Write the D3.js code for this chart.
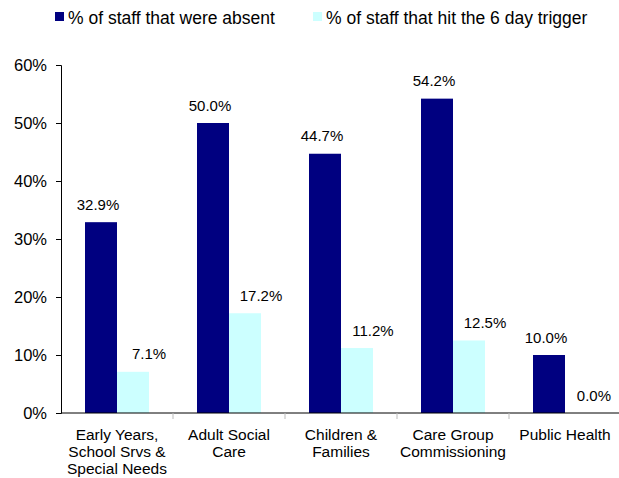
<!DOCTYPE html>
<html>
<head>
<meta charset="utf-8">
<script src="https://cdn.jsdelivr.net/npm/d3@7"></script>
<style>
  body { margin: 0; background: #fff; }
  text { font-family: "Liberation Sans", Arial, sans-serif; fill: #000; }
</style>
</head>
<body>
<script>
// data
var categories = [
  ["Early Years,", "School Srvs &", "Special Needs"],
  ["Adult Social", "Care"],
  ["Children &", "Families"],
  ["Care Group", "Commissioning"],
  ["Public Health"]
];
var absent = [32.9, 50.0, 44.7, 54.2, 10.0];
var trigger = [7.1, 17.2, 11.2, 12.5, 0.0];
var seriesNames = ["% of staff that were absent", "% of staff that hit the 6 day trigger"];
var seriesColors = ["#000080", "#ccffff"];
var yTicks = [0, 10, 20, 30, 40, 50, 60];

var width = 619, height = 478;
var margin = {top: 65, left: 61, bottom: 65};

var svg = d3.select("body").append("svg")
  .attr("width", width)
  .attr("height", height);

var x = d3.scaleBand()
  .domain(d3.range(categories.length))
  .range([margin.left, margin.left + 112 * categories.length]);

// two bars per group, gap on each side
var xs = d3.scaleBand()
  .domain([0, 1])
  .range([0, x.bandwidth()])
  .paddingInner(0)
  .paddingOuter(0.75);

var y = d3.scaleLinear()
  .domain([0, 60])
  .range([height - margin.bottom, margin.top]);

// y axis
var yAxis = svg.append("g")
  .attr("transform", "translate(" + margin.left + ",0)")
  .call(d3.axisLeft(y).tickValues(yTicks).tickSize(5).tickPadding(9)
    .tickFormat(function(d) { return d + "%"; }));
yAxis.select(".domain").attr("stroke", "#000");
yAxis.selectAll("text").style("font-size", "16.5px");

// bars
var series = [absent, trigger];
var labelShift = [-3, 16]; // excel puts the light labels off to the right
series.forEach(function(vals, s) {
  svg.append("g").selectAll("rect")
    .data(vals)
    .join("rect")
      .attr("x", function(d, i) { return x(i) + xs(s); })
      .attr("width", xs.bandwidth())
      .attr("y", function(d) { return y(d); })
      .attr("height", function(d) { return y(0) - y(d); })
      .attr("fill", seriesColors[s]);
});

series.forEach(function(vals, s) {
  svg.append("g").selectAll("text")
    .data(vals)
    .join("text")
      .attr("x", function(d, i) { return x(i) + xs(s) + xs.bandwidth() / 2 + labelShift[s]; })
      .attr("y", function(d) { return y(d) - 12.5; })
      .attr("text-anchor", "middle")
      .style("font-size", "15px")
      .text(function(d) { return d.toFixed(1) + "%"; })
      .each(function() {
        // keep inside the plot on the right
        var w = this.getComputedTextLength();
        var cx = +this.getAttribute("x");
        if (cx + w / 2 > 611) this.setAttribute("x", 611 - w / 2);
      });
});

// x axis
var xAxis = svg.append("g")
  .attr("transform", "translate(0," + y(0) + ")");
xAxis.append("line")
  .attr("x1", margin.left).attr("x2", width)
  .attr("stroke", "#000");
xAxis.selectAll(".tick")
  .data(d3.range(1, categories.length))
  .join("line")
    .attr("x1", function(d) { return x(d); })
    .attr("x2", function(d) { return x(d); })
    .attr("y1", 0).attr("y2", 6)
    .attr("stroke", "#bbb");

xAxis.selectAll(".cat")
  .data(categories)
  .join("text")
    .attr("class", "cat")
    .attr("text-anchor", "middle")
    .attr("transform", function(d, i) { return "translate(" + (x(i) + x.bandwidth() / 2) + ",27)"; })
    .style("font-size", "15.5px")
    .selectAll("tspan")
    .data(function(d) { return d; })
    .join("tspan")
      .attr("x", 0)
      .attr("dy", function(d, i) { return i === 0 ? 0 : 17; })
      .text(function(d) { return d; });

// legend
var legendX = [55, 313];
var legend = svg.append("g");
seriesNames.forEach(function(name, s) {
  legend.append("rect")
    .attr("x", legendX[s]).attr("y", 12)
    .attr("width", 9).attr("height", 9)
    .attr("fill", seriesColors[s]);
  legend.append("text")
    .attr("x", legendX[s] + 13).attr("y", 24)
    .style("font-size", "17.5px")
    .text(name);
});
</script>
</body>
</html>
